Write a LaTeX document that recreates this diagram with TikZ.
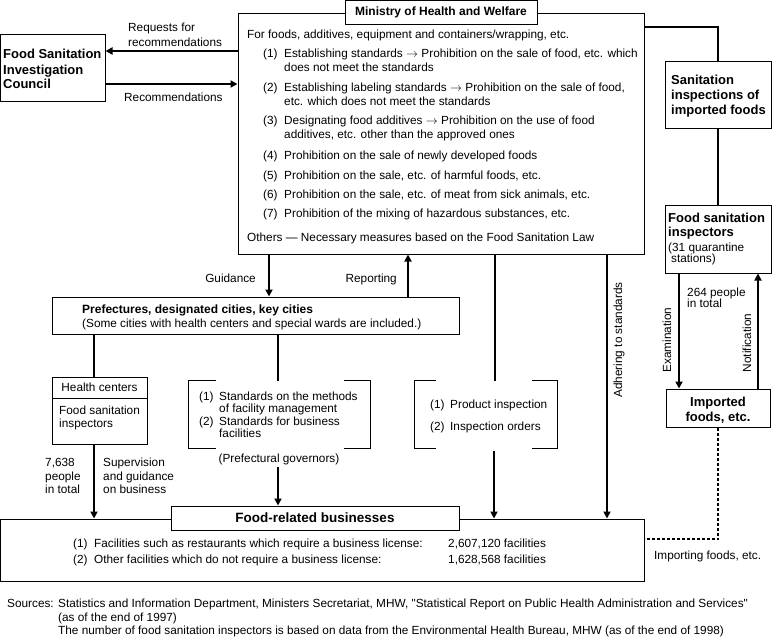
\documentclass[tikz,border=0pt]{standalone}
\usepackage{fontspec}
\setmainfont{Liberation Sans}[Ligatures=TeXOff]
\usetikzlibrary{arrows.meta}
\newcommand\regfnt{\fontsize{11.8}{14}\selectfont}
\newcommand\bigbf{\fontsize{13}{15}\selectfont\bfseries}
\newcommand\midbf{\fontsize{12}{14}\selectfont\bfseries}
\newcommand\rarr{$\rightarrow$}
\begin{document}
\begin{tikzpicture}[x=1pt,y=-1pt,
  box/.style={draw, line width=1pt, fill=white, inner sep=0pt},
  lbl/.style={inner sep=0pt, anchor=base west, font=\regfnt},
  clbl/.style={inner sep=0pt, anchor=base, font=\regfnt},
  rlbl/.style={inner sep=0pt, anchor=base east, font=\regfnt},
  blbl/.style={inner sep=0pt, anchor=base west, font=\bigbf},
  vlbl/.style={inner sep=0pt, anchor=center, rotate=90, font=\regfnt},
  conn/.style={line width=2.4pt},
  arr/.style={conn, -{Triangle[width=7pt,length=7pt]}},
  thin/.style={line width=1pt},
  dashline/.style={line width=2.4pt, dash pattern=on 3pt off 2pt}]
\useasboundingbox (0,0) rectangle (772,637);

% ---------- Council ----------
\node[box, minimum width=104.5, minimum height=67] (council) at (52.75,67.5) {};
\node[blbl] (council1) at (3,58.5) {Food Sanitation};
\node[blbl] (council2) at (3,74.5) {Investigation};
\node[blbl] (council3) at (3,88.5) {Council};

% ---------- Ministry ----------
\node[box, minimum width=406, minimum height=241] (ministry) at (441,133.5) {};
\node[box, minimum width=192, minimum height=23.5, font=\midbf] (mtitle) at (441,12.25) {Ministry of Health and Welfare};
\node[lbl] (m0) at (247,38) {For foods, additives, equipment and containers/wrapping, etc.};
\node[lbl] (m1n) at (263,57) {(1)};
\node[lbl] (m1a) at (284,57) {Establishing standards \rarr{} Prohibition on the sale of food, etc. which};
\node[lbl] (m1b) at (284,71) {does not meet the standards};
\node[lbl] (m2n) at (263,91) {(2)};
\node[lbl] (m2a) at (284,91) {Establishing labeling standards \rarr{} Prohibition on the sale of food,};
\node[lbl] (m2b) at (284,105) {etc. which does not meet the standards};
\node[lbl] (m3n) at (263,124) {(3)};
\node[lbl] (m3a) at (284,124) {Designating food additives \rarr{} Prohibition on the use of food};
\node[lbl] (m3b) at (284,138) {additives, etc. other than the approved ones};
\node[lbl] (m4n) at (263,159) {(4)};
\node[lbl] (m4a) at (284,159) {Prohibition on the sale of newly developed foods};
\node[lbl] (m5n) at (263,179) {(5)};
\node[lbl] (m5a) at (284,179) {Prohibition on the sale, etc. of harmful foods, etc.};
\node[lbl] (m6n) at (263,198) {(6)};
\node[lbl] (m6a) at (284,198) {Prohibition on the sale, etc. of meat from sick animals, etc.};
\node[lbl] (m7n) at (263,217) {(7)};
\node[lbl] (m7a) at (284,217) {Prohibition of the mixing of hazardous substances, etc.};
\node[lbl] (m8) at (247,241) {Others — Necessary measures based on the Food Sanitation Law};

% council arrows
\draw[arr] (ministry.west |- 0,51) -- (council.east |- 0,51);
\draw[arr] (council.east |- 0,84) -- (ministry.west |- 0,84);
\node[lbl] (req1) at (128,31) {Requests for};
\node[lbl] (req2) at (128,46) {recommendations};
\node[lbl] (rec) at (124,101) {Recommendations};

% ---------- Right column ----------
\node[box, minimum width=106, minimum height=67] (sanit) at (718,94.5) {};
\node[blbl] (sanit1) at (671,84.5) {Sanitation};
\node[blbl] (sanit2) at (671,99.5) {inspections of};
\node[blbl] (sanit3) at (671,114.5) {imported foods};
\draw[conn] (ministry.east |- 0,27) -| (sanit.north);

\node[box, minimum width=106, minimum height=68] (fsi) at (718,239) {};
\draw[conn] (sanit.south) -- (fsi.north);
\node[blbl] (fsi1) at (668,222.5) {Food sanitation};
\node[blbl] (fsi2) at (668,236.5) {inspectors};
\node[lbl] (fsi3) at (668,251) {(31 quarantine};
\node[lbl] (fsi4) at (671,262) {stations)};

\node[box, minimum width=104, minimum height=38] (imported) at (718,408) {};
\node[inner sep=0pt, anchor=base, font=\bigbf] (imp1) at (718,406.5) {Imported};
\node[inner sep=0pt, anchor=base, font=\bigbf] (imp2) at (718,421.5) {foods, etc.};

\draw[arr] (fsi.south -| 679,0) -- (imported.north -| 679,0);
\draw[arr] (imported.north -| 758,0) -- (fsi.south -| 758,0);
\node[vlbl] (exam) at (667,340) {Examination};
\node[vlbl] (notif) at (747,343) {Notification};
\node[lbl] (ppl1) at (687,296) {264 people};
\node[lbl] (ppl2) at (687,307) {in total};

% ---------- Prefectures ----------
\node[box, minimum width=407, minimum height=37] (pref) at (255.5,315.5) {};
\node[inner sep=0pt, anchor=base west, font=\midbf] (pref1) at (82,313.5) {Prefectures, designated cities, key cities};
\node[lbl] (pref2) at (82,327) {(Some cities with health centers and special wards are included.)};

\draw[arr] (ministry.south -| 269,0) -- (pref.north -| 269,0);
\draw[arr] (pref.north -| 408,0) -- (ministry.south -| 408,0);
\node[rlbl] (guid) at (256,282) {Guidance};
\node[rlbl] (repo) at (397,282) {Reporting};

% ---------- Health centers ----------
\node[box, minimum width=95, minimum height=67] (health) at (99.5,410.5) {};
\draw[thin] (health.west |- 0,398) -- (health.east |- 0,398);
\node[clbl] (hc1) at (99.5,391) {Health centers};
\node[lbl] (hc2) at (59,414) {Food sanitation};
\node[lbl] (hc3) at (59,427) {inspectors};
\draw[conn] (pref.south -| 94,0) -- (health.north -| 94,0);

% ---------- Bracket 1 ----------
\node[inner sep=0pt, minimum width=181, minimum height=67] (br1) at (279.5,414.5) {};
\draw[thin] ([xshift=27pt]br1.north west) -- (br1.north west) -- (br1.south west) -- ([xshift=27pt]br1.south west);
\draw[thin] ([xshift=-26pt]br1.north east) -- (br1.north east) -- (br1.south east) -- ([xshift=-26pt]br1.south east);
\node[lbl] (b1n1) at (199,400) {(1)};
\node[lbl] (b1a) at (219,400) {Standards on the methods};
\node[lbl] (b1b) at (219,412) {of facility management};
\node[lbl] (b1n2) at (199,425) {(2)};
\node[lbl] (b1c) at (219,425) {Standards for business};
\node[lbl] (b1d) at (219,437) {facilities};
\node[clbl] (prefgov) at (279,462) {(Prefectural governors)};
\draw[conn] (pref.south -| 278,0) -- (br1.north -| 278,0);

% ---------- Bracket 2 ----------
\node[inner sep=0pt, minimum width=142, minimum height=67] (br2) at (486,414.5) {};
\draw[thin] ([xshift=21pt]br2.north west) -- (br2.north west) -- (br2.south west) -- ([xshift=21pt]br2.south west);
\draw[thin] ([xshift=-25pt]br2.north east) -- (br2.north east) -- (br2.south east) -- ([xshift=-25pt]br2.south east);
\node[lbl] (b2n1) at (430,408) {(1)};
\node[lbl] (b2a) at (450,408) {Product inspection};
\node[lbl] (b2n2) at (430,430) {(2)};
\node[lbl] (b2b) at (450,430) {Inspection orders};
\draw[conn] (ministry.south -| 495,0) -- (br2.north -| 495,0);

% ---------- Food-related businesses ----------
\node[box, minimum width=643.5, minimum height=62] (biz) at (322.25,550) {};
\node[box, minimum width=288, minimum height=24, font=\fontsize{13.5}{15}\selectfont\bfseries] (biztitle) at (315,518) {Food-related businesses};
\node[lbl] (bz1n) at (73,547) {(1)};
\node[lbl] (bz1a) at (94,547) {Facilities such as restaurants which require a business license:};
\node[lbl] (bz1b) at (448,547) {2,607,120 facilities};
\node[lbl] (bz2n) at (73,563) {(2)};
\node[lbl] (bz2a) at (94,563) {Other facilities which do not require a business license:};
\node[lbl] (bz2b) at (448,563) {1,628,568 facilities};

\draw[arr] (health.south -| 94,0) -- (biz.north -| 94,0);
\node[lbl] (n1) at (45,466) {7,638};
\node[lbl] (n2) at (45,480) {people};
\node[lbl] (n3) at (45,493) {in total};
\node[lbl] (s1) at (103,466) {Supervision};
\node[lbl] (s2) at (103,480) {and guidance};
\node[lbl] (s3) at (103,493) {on business};

\draw[arr] ([yshift=-2pt]prefgov.south -| 278,0) -- (biztitle.north -| 278,0);
\draw[arr] ([yshift=-3pt]br2.south -| 494,0) -- (biz.north -| 494,0);
\draw[arr] (ministry.south -| 607,0) -- (biz.north -| 607,0);
\node[vlbl] (adh) at (619,340) {Adhering to standards};

\draw[dashline] (imported.south) |- (biz.east |- 0,539);
\node[lbl] (impf) at (654,559) {Importing foods, etc.};

% ---------- Sources ----------
\node[lbl] (src0) at (7,607) {Sources:};
\node[lbl] (src1) at (58,607) {Statistics and Information Department, Ministers Secretariat, MHW, "Statistical Report on Public Health Administration and Services"};
\node[lbl] (src2) at (58,621) {(as of the end of 1997)};
\node[lbl] (src3) at (58,634) {The number of food sanitation inspectors is based on data from the Environmental Health Bureau, MHW (as of the end of 1998)};
\end{tikzpicture}
\end{document}
